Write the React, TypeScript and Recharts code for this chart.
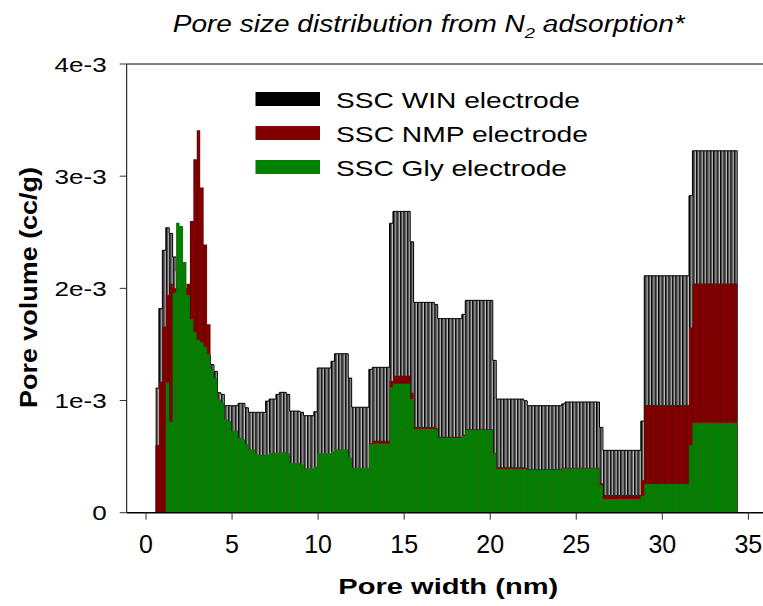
import React from 'react';
import { ComposedChart, Area, XAxis, YAxis, ReferenceLine } from 'recharts';

// left edge of every step (pore width, nm) and the pore volume of that step (cc/g)
const winWidths = [
  0.55, 0.75, 0.95, 1.15, 1.35, 1.55, 1.75, 1.95, 2.15, 2.35, 2.55, 2.75, 2.95, 3.15, 3.35, 3.55,
  3.75, 3.95, 4.15, 4.35, 4.55, 5.35, 5.75, 5.95, 6.95, 7.15, 7.55, 7.75, 8.15, 8.35, 8.95, 9.15,
  9.75, 9.95, 10.75, 10.95, 11.75, 11.95, 12.95, 13.15, 14.15, 14.35, 15.35, 15.55, 16.75, 16.95,
  18.35, 18.55, 20.15, 20.35, 21.95, 22.15, 24.15, 24.35, 26.35, 26.55, 28.75, 28.95, 31.55, 31.75,
];
const winVolumes = [
  1.11e-3, 1.82e-3, 2.34e-3, 2.54e-3, 2.49e-3, 2.28e-3, 2.15e-3, 2.05e-3, 1.98e-3, 1.9e-3, 1.8e-3,
  1.7e-3, 1.62e-3, 1.55e-3, 1.48e-3, 1.4e-3, 1.32e-3, 1.26e-3, 1.07e-3, 1.055e-3, 0.954e-3,
  0.975e-3, 0.936e-3, 0.895e-3, 0.995e-3, 1.013e-3, 1.055e-3, 1.073e-3, 1.055e-3, 0.906e-3,
  0.895e-3, 0.865e-3, 0.9e-3, 1.29e-3, 1.35e-3, 1.417e-3, 1.2e-3, 0.94e-3, 1.278e-3, 1.296e-3,
  2.58e-3, 2.686e-3, 2.415e-3, 1.875e-3, 1.857e-3, 1.73e-3, 1.768e-3, 1.893e-3, 1.358e-3,
  1.013e-3, 0.998e-3, 0.954e-3, 0.97e-3, 0.987e-3, 0.761e-3, 0.556e-3, 0.817e-3, 2.112e-3,
  2.826e-3, 3.226e-3,
];

const nmpWidths = [
  0.55, 0.75, 0.95, 1.15, 1.35, 1.55, 1.75, 1.95, 2.15, 2.35, 2.55, 2.75, 2.95, 3.15, 3.35, 3.55,
  3.75, 3.95, 4.15, 4.35, 4.55, 4.75, 4.95, 5.35, 5.55, 5.75, 5.95, 6.35, 6.55, 6.95, 7.15, 7.75,
  8.15, 8.35, 8.95, 9.15, 9.75, 9.95, 10.75, 10.95, 11.75, 11.95, 12.95, 13.15, 14.15, 14.35,
  15.35, 15.55, 16.75, 16.95, 18.35, 18.55, 20.15, 20.35, 21.95, 22.15, 24.15, 26.35, 26.55,
  28.75, 28.95, 31.55, 31.75,
];
const nmpVolumes = [
  0.603e-3, 1.168e-3, 1.66e-3, 1.94e-3, 2.04e-3, 2.0e-3, 1.95e-3, 1.95e-3, 2.0e-3, 2.04e-3,
  2.6e-3, 3.15e-3, 3.41e-3, 2.9e-3, 2.39e-3, 1.68e-3, 1.2e-3, 1.12e-3, 0.98e-3, 0.95e-3, 0.81e-3,
  0.79e-3, 0.71e-3, 0.65e-3, 0.63e-3, 0.59e-3, 0.55e-3, 0.5e-3, 0.5e-3, 0.505e-3, 0.52e-3,
  0.52e-3, 0.51e-3, 0.43e-3, 0.415e-3, 0.385e-3, 0.39e-3, 0.52e-3, 0.53e-3, 0.55e-3, 0.48e-3,
  0.39e-3, 0.62e-3, 0.642e-3, 1.174e-3, 1.22e-3, 1.07e-3, 0.765e-3, 0.755e-3, 0.678e-3,
  0.695e-3, 0.745e-3, 0.535e-3, 0.405e-3, 0.4e-3, 0.388e-3, 0.4e-3, 0.262e-3, 0.158e-3,
  0.29e-3, 0.96e-3, 1.652e-3, 2.044e-3,
];

const glyWidths = [
  1.15, 1.35, 1.55, 1.75, 1.95, 2.15, 2.35, 2.55, 2.75, 2.95, 3.15, 3.35, 3.55, 3.75, 3.95, 4.15,
  4.35, 4.55, 4.75, 4.95, 5.35, 5.55, 5.75, 5.95, 6.35, 6.55, 6.95, 7.15, 7.75, 8.15, 8.35, 8.95,
  9.15, 9.75, 9.95, 10.75, 10.95, 11.75, 11.95, 12.95, 13.15, 14.15, 14.35, 15.35, 15.55, 16.75,
  16.95, 18.35, 18.55, 20.15, 20.35, 22.15, 24.15, 26.35, 26.55, 28.75, 28.95, 31.55, 31.75,
];
const glyVolumes = [
  1.16e-3, 0.81e-3, 1.96e-3, 2.585e-3, 2.555e-3, 2.234e-3, 1.94e-3, 1.726e-3, 1.61e-3, 1.54e-3,
  1.52e-3, 1.48e-3, 1.415e-3, 1.278e-3, 1.2e-3, 1.01e-3, 0.98e-3, 0.832e-3, 0.817e-3, 0.731e-3,
  0.668e-3, 0.654e-3, 0.612e-3, 0.565e-3, 0.52e-3, 0.514e-3, 0.52e-3, 0.535e-3, 0.538e-3,
  0.53e-3, 0.44e-3, 0.43e-3, 0.396e-3, 0.41e-3, 0.53e-3, 0.545e-3, 0.565e-3, 0.494e-3, 0.4e-3,
  0.61e-3, 0.618e-3, 1.118e-3, 1.15e-3, 1.013e-3, 0.749e-3, 0.743e-3, 0.668e-3, 0.686e-3,
  0.737e-3, 0.529e-3, 0.392e-3, 0.38e-3, 0.396e-3, 0.247e-3, 0.122e-3, 0.149e-3, 0.256e-3,
  0.603e-3, 0.802e-3,
];

// right edge of the last step, shared by all three electrodes
const lastWidth = 34.35;

const xTicks = [0, 5, 10, 15, 20, 25, 30, 35];
const yTicks = [0, 1e-3, 2e-3, 3e-3, 4e-3];
const yTickLabels = ['0', '1e-3', '2e-3', '3e-3', '4e-3'];

const legendNames = ['SSC WIN electrode', 'SSC NMP electrode', 'SSC Gly electrode'];
const legendColors = ['#000000', '#800000', '#008000'];

const FONT = '"Liberation Sans", Arial, sans-serif';

// layout
const W = 763;
const H = 606;
const plotLeft = 126.7;
const plotTop = 64;
const plotBottom = 512.7;
const xMin = -1.121;
const xMax = 35.85;
const pxPerNm = (W - plotLeft) / (xMax - xMin);
const stripe = 0.2 * pxPerNm;
const stripeX = plotLeft + (0.55 - xMin) * pxPerNm;

function stepValue(widths: number[], volumes: number[], x: number) {
  if (x < widths[0] || x > lastWidth) return null;
  if (x === lastWidth) return 0;
  let v = volumes[0];
  for (let i = 0; i < widths.length; i++) {
    if (widths[i] <= x) v = volumes[i];
  }
  return v;
}

const allWidths = Array.from(new Set([...winWidths, ...nmpWidths, ...glyWidths, lastWidth])).sort(
  (a, b) => a - b
);

const data = allWidths.map((w) => ({
  width: w,
  win: stepValue(winWidths, winVolumes, w),
  nmp: stepValue(nmpWidths, nmpVolumes, w),
  gly: stepValue(glyWidths, glyVolumes, w),
}));

const XTick = ({ x, y, payload }: any) => (
  <text x={x} y={y + 33.6} textAnchor="middle" fontSize={25} fill="#000" fontFamily={FONT}>
    {payload.value}
  </text>
);

const YTick = ({ x, y, payload }: any) => {
  const idx = yTicks.findIndex((t) => Math.abs(t - payload.value) < 1e-9);
  return (
    <text
      transform={`translate(${x - 13},${y + 7.5}) scale(1.24,1)`}
      textAnchor="end"
      fontSize={21}
      fill="#000"
      fontFamily={FONT}
    >
      {idx >= 0 ? yTickLabels[idx] : payload.value}
    </text>
  );
};

export default function App() {
  return (
    <div style={{ position: 'absolute', left: 0, top: 0, width: W, height: H, background: '#fff' }}>
      <ComposedChart
        width={W}
        height={H}
        data={data}
        margin={{ top: plotTop, right: 0, bottom: 0, left: 0 }}
      >
        <defs>
          <pattern id="winFill" patternUnits="userSpaceOnUse" x={stripeX} y={0} width={stripe} height={10}>
            <rect width={stripe} height={10} fill="#4d4d4d" />
            <rect x={0} width={1} height={10} fill="#000" />
            <rect x={2.45} width={0.7} height={10} fill="#fff" />
          </pattern>
          <pattern id="nmpFill" patternUnits="userSpaceOnUse" x={stripeX} y={0} width={stripe * 2} height={10}>
            <rect width={stripe * 2} height={10} fill="#800000" />
            <rect x={0} width={0.8} height={10} fill="#5c0000" />
          </pattern>
          <pattern id="glyFill" patternUnits="userSpaceOnUse" x={stripeX} y={0} width={stripe * 2} height={10}>
            <rect width={stripe * 2} height={10} fill="#008000" />
            <rect x={0} width={0.8} height={10} fill="#3c5c16" />
          </pattern>
        </defs>
        <XAxis
          type="number"
          dataKey="width"
          domain={[xMin, xMax]}
          allowDataOverflow
          ticks={xTicks}
          interval={0}
          height={H - plotBottom}
          tickSize={7}
          tickMargin={0}
          axisLine={{ stroke: '#000', strokeWidth: 1.5 }}
          tickLine={{ stroke: '#333' }}
          tick={(p: any) => <XTick {...p} />}
        />
        <YAxis
          type="number"
          domain={[0, 4e-3]}
          allowDataOverflow
          ticks={yTicks}
          interval={0}
          width={plotLeft}
          tickSize={7}
          tickMargin={0}
          axisLine={{ stroke: '#000' }}
          tickLine={{ stroke: '#333' }}
          tick={(p: any) => <YTick {...p} />}
        />
        <ReferenceLine y={4e-3} stroke="#000" strokeWidth={1} />
        <Area
          type="stepAfter"
          dataKey="win"
          fill="url(#winFill)"
          fillOpacity={1}
          stroke="#000"
          strokeWidth={1}
          dot={false}
          activeDot={false}
          isAnimationActive={false}
        />
        <Area
          type="stepAfter"
          dataKey="nmp"
          fill="url(#nmpFill)"
          fillOpacity={1}
          stroke="none"
          dot={false}
          activeDot={false}
          isAnimationActive={false}
        />
        <Area
          type="stepAfter"
          dataKey="gly"
          fill="url(#glyFill)"
          fillOpacity={1}
          stroke="none"
          dot={false}
          activeDot={false}
          isAnimationActive={false}
        />
      </ComposedChart>
      <svg
        width={W}
        height={H}
        style={{ position: 'absolute', left: 0, top: 0, pointerEvents: 'none' }}
        fontFamily={FONT}
      >
        <text x={172.7} y={32} fontSize={23} fontStyle="italic" textLength={512} lengthAdjust="spacingAndGlyphs">
          Pore size distribution from N
          <tspan dy={6} fontSize={15}>
            2
          </tspan>
          <tspan dy={-6}> adsorption*</tspan>
        </text>
        {legendNames.map((name, i) => (
          <g key={name}>
            <rect x={255.5} y={92 + i * 34} width={64.5} height={14} fill={legendColors[i]} />
            <text
              x={336}
              y={107.5 + i * 34}
              fontSize={22}
              textLength={[244, 252, 231][i]}
              lengthAdjust="spacingAndGlyphs"
            >
              {name}
            </text>
          </g>
        ))}
        <text x={338.3} y={594.3} fontSize={22} fontWeight="bold" textLength={220} lengthAdjust="spacingAndGlyphs">
          Pore width (nm)
        </text>
        <text
          transform="translate(36.7,408) rotate(-90)"
          fontSize={24}
          fontWeight="bold"
          textLength={241}
          lengthAdjust="spacingAndGlyphs"
        >
          Pore volume (cc/g)
        </text>
      </svg>
    </div>
  );
}
